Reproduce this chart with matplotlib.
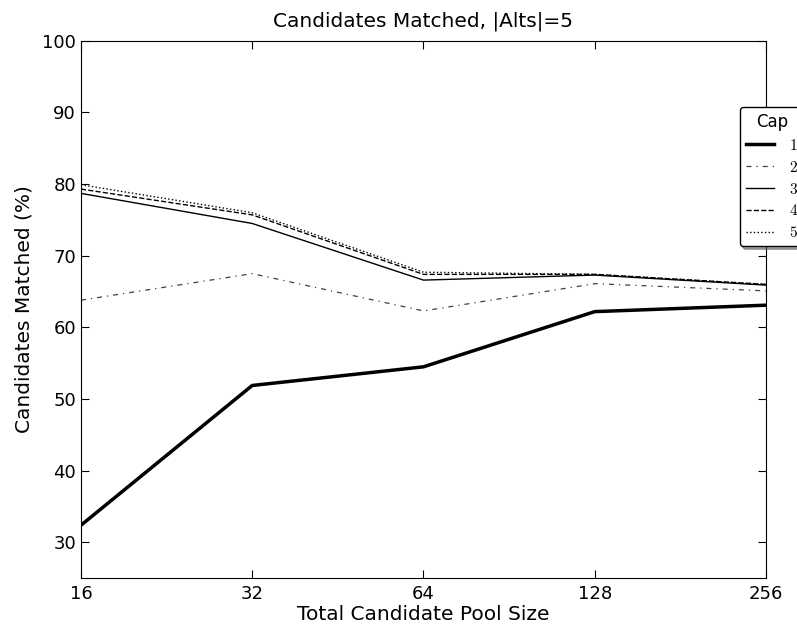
import numpy as np
import matplotlib
matplotlib.use("Agg")
import matplotlib.pyplot as plt

plt.rcParams['mathtext.fontset'] = 'cm'

# Tamaño total del grupo de candidatos (eje x, escala log2)
pool_sizes = [16, 32, 64, 128, 256]

# Porcentaje de candidatos emparejados para cada valor de Cap
cap1 = [32.4, 51.9, 54.5, 62.2, 63.1]
cap2 = [63.8, 67.5, 62.3, 66.1, 65.1]
cap3 = [78.7, 74.5, 66.6, 67.3, 65.9]
cap4 = [79.3, 75.7, 67.4, 67.4, 66.0]
cap5 = [79.9, 76.0, 67.7, 67.4, 66.0]

cap_labels = ['1', '2', '3', '4', '5']

fig = plt.figure(figsize=(7.97, 6.27), dpi=100)
ax = fig.add_axes([0.1016, 0.0777, 0.8594, 0.8574])

ax.plot(pool_sizes, cap1, color='black', linewidth=2.5, linestyle='-', label='$1$')
ax.plot(pool_sizes, cap2, color='0.25', linewidth=0.9, linestyle=(0, (4, 4, 1, 4)), label='$2$')
ax.plot(pool_sizes, cap3, color='black', linewidth=1.0, linestyle='-', label='$3$')
ax.plot(pool_sizes, cap4, color='black', linewidth=1.0, linestyle='--', label='$4$')
ax.plot(pool_sizes, cap5, color='black', linewidth=1.0, linestyle=':', label='$5$')

ax.set_xscale('log', base=2)
ax.set_xticks(pool_sizes)
ax.set_xticklabels([str(p) for p in pool_sizes])
ax.minorticks_off()
ax.set_xlim(16, 256)
ax.set_ylim(25, 100)
ax.set_yticks([30, 40, 50, 60, 70, 80, 90, 100])

ax.tick_params(direction='in', top=True, right=True, length=6, labelsize=13)
ax.tick_params(axis='x', pad=5)

ax.set_title('Candidates Matched, |Alts|=5', fontsize=14.5, pad=10)
ax.set_xlabel('Total Candidate Pool Size', fontsize=14.5, labelpad=1)
ax.set_ylabel('Candidates Matched (%)', fontsize=14.5, labelpad=6)

leg = ax.legend(title='Cap', loc='upper left', bbox_to_anchor=(0.962, 0.877),
                shadow=True, fancybox=True, fontsize=11, title_fontsize=12,
                handlelength=1.8, handletextpad=1.0, labelspacing=0.45,
                borderaxespad=0)
leg.get_frame().set_edgecolor('black')
leg.set_clip_on(False)

fig.savefig('out.png', dpi=100)
